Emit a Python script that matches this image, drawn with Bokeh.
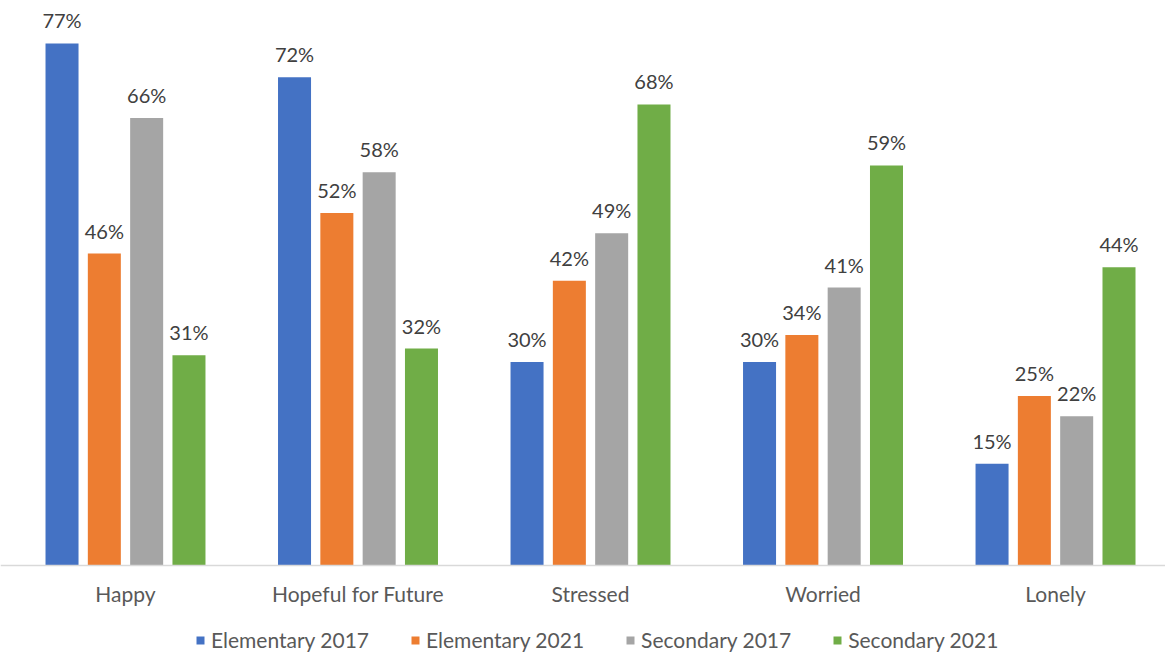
import numpy as np
from bokeh.plotting import figure
from bokeh.models import ColumnDataSource, LabelSet, Legend, LegendItem, Range1d, FixedTicker
from bokeh.core.properties import value
from bokeh.embed import file_html
from bokeh.resources import INLINE

categories = ["Happy", "Hopeful for Future", "Stressed", "Worried", "Lonely"]
series_names = ["Elementary 2017", "Elementary 2021", "Secondary 2017", "Secondary 2021"]
elem_2017 = [77, 72, 30, 30, 15]
elem_2021 = [46, 52, 42, 34, 25]
sec_2017 = [66, 58, 49, 41, 22]
sec_2021 = [31, 32, 68, 59, 44]
colors = ["#4472C4", "#ED7D31", "#A5A5A5", "#70AD47"]

FONT = "Lato"
series_values = [elem_2017, elem_2021, sec_2017, sec_2021]

p = figure(frame_width=1165, frame_height=652, output_backend="svg", toolbar_location=None,
           x_range=Range1d(-0.5376, 4.473), y_range=Range1d(-12.83, 83.33),
           min_border_left=0, min_border_right=0, min_border_top=0, min_border_bottom=0)
p.outline_line_color = None
p.xgrid.visible = False
p.ygrid.visible = False
p.yaxis.visible = False

step = 0.182
bar_w = 0.142
items = []
idx = np.arange(len(categories))
for j, (name, vals, col) in enumerate(zip(series_names, series_values, colors)):
    src = ColumnDataSource(dict(x=idx + (j - 1.5) * step, top=vals,
                                lab=[f"{v}%" for v in vals]))
    r = p.vbar(x="x", top="top", width=bar_w, bottom=0, source=src,
               fill_color=col, line_color=None)
    items.append(LegendItem(label=name, renderers=[r]))
    p.add_layout(LabelSet(x="x", y="top", text="lab", source=src, y_offset=15,
                          text_align="center", text_baseline="alphabetic",
                          text_font=value(FONT), text_font_size=value("20px"),
                          text_color="#404040"))

ax = p.xaxis[0]
ax.fixed_location = 0
ax.ticker = FixedTicker(ticks=list(range(len(categories))))
ax.major_label_overrides = {i: c for i, c in enumerate(categories)}
ax.major_tick_line_color = None
ax.minor_tick_line_color = None
ax.axis_line_color = "#D9D9D9"
ax.axis_line_width = 1.5
ax.major_label_text_font = FONT
ax.major_label_text_font_size = "21px"
ax.major_label_text_color = "#595959"
ax.major_label_standoff = 9

legend = Legend(items=items, orientation="horizontal", location=(195, 0),
                label_text_font=FONT, label_text_font_size="21px",
                label_text_color="#595959", glyph_width=10, glyph_height=10,
                label_standoff=6, spacing=41, border_line_color=None,
                background_fill_alpha=0, padding=0, margin=0)
p.add_layout(legend, "center")

open("out.html", "w").write(file_html(p, INLINE))
